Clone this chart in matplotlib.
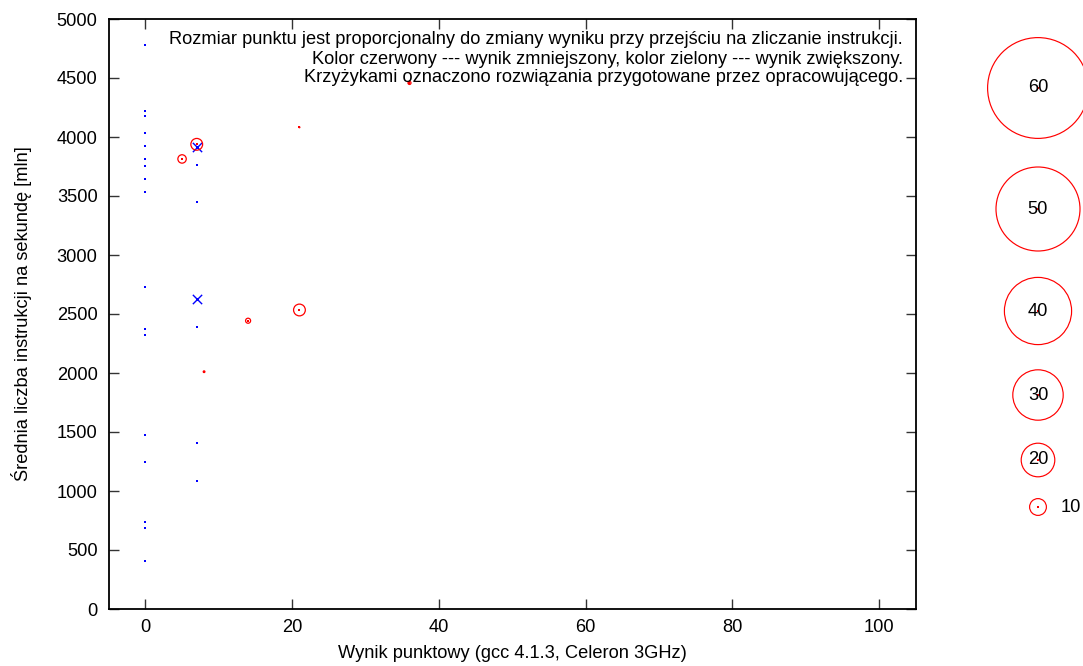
import matplotlib
matplotlib.use("Agg")
import matplotlib.pyplot as plt
import numpy as np

plt.rcParams['font.family'] = ['Liberation Sans', 'DejaVu Sans']

# ---- data ----
blue_x0_y = [4780, 4223, 4175, 4034, 3926, 3814, 3754, 3644, 3531, 2731,
             2375, 2325, 1477, 1246, 737, 689, 406]
blue_x7_y = [3918, 3766, 3452, 2627, 2392, 1409, 1082]
cross_x = [7, 7]
cross_y = [3918, 2627]
red_x = [7, 5, 14, 21, 8, 21, 36]
red_y = [3938, 3814, 2443, 2534, 2011, 4082, 4458]
red_change = [7, 5, 3, 7, 1, 0.5, 1.8]
legend_values = [60, 50, 40, 30, 20, 10]
x_ticks = [0, 20, 40, 60, 80, 100]
y_ticks = list(range(0, 5001, 500))
note_lines = [
    "Rozmiar punktu jest proporcjonalny do zmiany wyniku przy przejściu na zliczanie instrukcji.",
    "Kolor czerwony --- wynik zmniejszony, kolor zielony --- wynik zwiększony.",
    "Krzyżykami oznaczono rozwiązania przygotowane przez opracowującego.",
]
xlabel = "Wynik punktowy (gcc 4.1.3, Celeron 3GHz)"
ylabel = "Średnia liczba instrukcji na sekundę [mln]"

W, H = 1083, 666
DPI = 100
PX2PT = 72.0 / DPI
FS = 13.15


def size_from_change(v):
    r_px = 0.84 * np.asarray(v, dtype=float)
    d_pt = 2 * r_px * PX2PT
    return d_pt ** 2


fig = plt.figure(figsize=(W / DPI, H / DPI), dpi=DPI)
left, right, top, bottom = 108.7, 915.7, 19, 609
ax = fig.add_axes([left / W, (H - bottom) / H, (right - left) / W, (bottom - top) / H])
ax.set_xlim(-5, 105)
ax.set_ylim(0, 5000)
ax.set_xticks(x_ticks)
ax.set_yticks(y_ticks)
ax.tick_params(direction='in', length=7, width=1, top=True, right=True,
               labelsize=FS, color='#333333')
ax.tick_params(axis='x', pad=7)
ax.tick_params(axis='y', pad=8)
for s in ax.spines.values():
    s.set_linewidth(1.3)
ax.set_xlabel(xlabel, fontsize=FS, labelpad=7)
ax.set_ylabel(ylabel, fontsize=FS, labelpad=18)

# blue dots
ax.scatter(np.zeros(len(blue_x0_y)), blue_x0_y, s=2.2, marker='s', color='#0000ff',
           linewidths=0, zorder=3)
ax.scatter(np.full(len(blue_x7_y), 7), blue_x7_y, s=2.2, marker='s', color='#0000ff',
           linewidths=0, zorder=3)
# crosses
ax.scatter(cross_x, cross_y, s=45, marker='x', color='#0000ff', linewidths=1.0, zorder=4)
# red circles
ax.scatter(red_x, red_y, s=size_from_change(red_change), facecolors='none',
           edgecolors='#ff0000', linewidths=0.9, zorder=5)
ax.scatter(red_x, red_y, s=1.2, marker='s', color='#ff0000', linewidths=0, zorder=5)

# overlay in pixel coordinates for notes and size legend
ov = fig.add_axes([0, 0, 1, 1])
ov.set_xlim(0, W)
ov.set_ylim(H, 0)
ov.axis('off')
note_y = [39, 59, 78]
for line, yy in zip(note_lines, note_y):
    ov.text(903, yy, line, ha='right', va='center', fontsize=FS)

leg_x = 1038
leg_y = [88, 209, 311, 395, 460, 507]
ov.scatter(np.full(len(legend_values), leg_x), leg_y, s=size_from_change(legend_values),
           facecolors='none', edgecolors='#ff0000', linewidths=0.85, clip_on=False)
ov.scatter(np.full(len(legend_values), leg_x), leg_y, s=1.0, marker='s', color='#ff0000',
           linewidths=0, clip_on=False)
for v, yy in zip(legend_values, leg_y):
    if v >= 20:
        ov.text(leg_x, yy, str(v), ha='center', va='center', fontsize=FS)
    else:
        ov.text(1061, yy, str(v), ha='left', va='center', fontsize=FS)

fig.savefig("out.png", dpi=DPI)
